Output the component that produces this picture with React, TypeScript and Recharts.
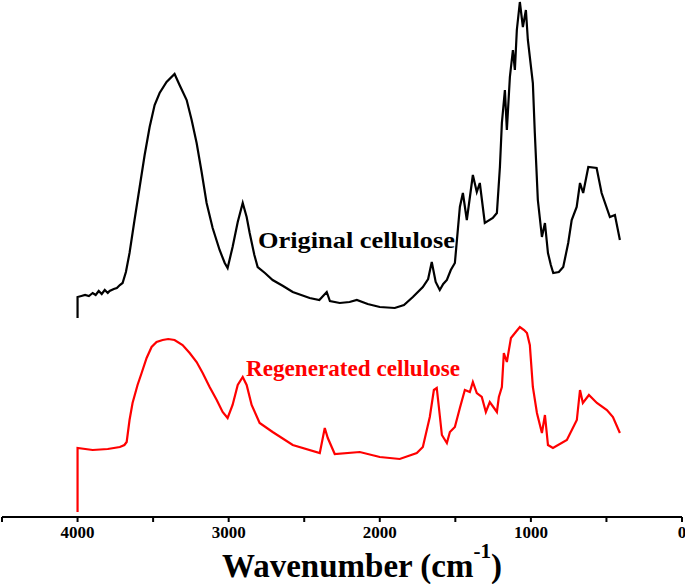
import { LineChart, Line, XAxis, YAxis } from "recharts";

// FTIR spectra, intensity in arbitrary units (offset traces)
const originalWn = [
  4000, 4000, 3975, 3950, 3925, 3900, 3880, 3860, 3840, 3820, 3800, 3788, 3760, 3740, 3720, 3702,
  3680, 3656, 3623, 3589, 3556, 3523, 3490, 3457, 3411, 3358, 3325, 3278, 3245, 3212, 3179, 3146,
  3106, 3060, 3026, 3007, 2974, 2940, 2907, 2881, 2861, 2830, 2808, 2760, 2709, 2640, 2576, 2464,
  2400, 2351, 2330, 2265, 2200, 2152, 2080, 2000, 1901, 1840, 1781, 1715, 1680, 1656, 1630, 1603,
  1580, 1556, 1530, 1503, 1470, 1450, 1424, 1384, 1358, 1338, 1305, 1252, 1225, 1205, 1192, 1172,
  1159, 1139, 1119, 1106, 1093, 1073, 1053, 1033, 1020, 987, 974, 954, 927, 907, 887, 868, 852,
  815, 786, 753, 730, 697, 675, 654, 620, 565, 532, 477, 444, 411,
];
const originalAbs = [
  199, 220, 221, 222, 221, 224, 222, 226, 223, 227, 224, 226, 228, 229, 232, 234,
  245, 264, 297, 330, 362, 390, 412, 424, 435, 443, 432, 417, 397, 374, 345, 314,
  289, 267, 254, 249, 270, 295, 314, 300, 284, 262, 250, 244, 237, 231, 225, 219,
  217, 225, 216, 214, 215, 217, 213, 210, 209, 212, 220, 230, 238, 255, 235, 227,
  233, 237, 247, 254, 310, 324, 297, 342, 325, 334, 294, 299, 304, 350, 394, 427,
  387, 440, 467, 447, 487, 515, 490, 507, 477, 434, 384, 317, 280, 294, 264, 252, 244,
  245, 250, 274, 297, 310, 334, 324, 350, 349, 324, 300, 302, 277,
];

const regeneratedWn = [
  4000, 4000, 3900, 3800, 3720, 3690, 3675, 3656, 3636, 3603, 3576, 3543, 3510, 3477, 3437, 3400,
  3358, 3305, 3258, 3212, 3172, 3126, 3079, 3040, 3007, 2974, 2940, 2907, 2881, 2848, 2795, 2709,
  2576, 2397, 2364, 2344, 2298, 2132, 2000, 1868, 1755, 1715, 1669, 1642, 1623, 1609, 1589, 1556,
  1536, 1503, 1470, 1437, 1404, 1384, 1358, 1325, 1298, 1272, 1225, 1212, 1192, 1179, 1159, 1132,
  1100, 1073, 1045, 1026, 1007, 987, 960, 927, 907, 887, 854, 762, 696, 675, 656, 616, 563, 497,
  457, 411,
];
const regeneratedAbs = [
  5, 69, 67, 68, 70, 72, 75, 97, 114, 132, 144, 159, 170, 175, 177, 178,
  177, 172, 164, 155, 144, 130, 117, 105, 99, 112, 132, 140, 132, 112, 94, 85,
  72, 64, 89, 79, 63, 65, 60, 58, 64, 70, 100, 127, 129, 110, 82, 74,
  85, 90, 109, 127, 125, 135, 124, 120, 105, 115, 105, 120, 130, 164, 155, 179,
  185, 190, 187, 184, 172, 130, 104, 84, 102, 72, 69, 77, 97, 127, 114, 122, 114, 107,
  100, 84,
];

const xTicks = [4500, 4000, 3500, 3000, 2500, 2000, 1500, 1000, 500, 0];

const originalData = originalWn.map((wn, i) => ({ wn, v: originalAbs[i] }));
const regeneratedData = regeneratedWn.map((wn, i) => ({ wn, v: regeneratedAbs[i] }));

const serif = '"Liberation Serif", "Times New Roman", serif';

const AxisTitle = () => (
  <text x={362} y={577} textAnchor="middle" fontFamily={serif} fontWeight="bold" fontSize={33} fill="#000">
    Wavenumber (cm
    <tspan fontSize={21} dy={-19}>-1</tspan>
    <tspan dy={19}>)</tspan>
  </text>
);

export default function App() {
  return (
    <div style={{ position: "absolute", left: 0, top: 0, width: 685, height: 584, background: "#fff" }}>
      <LineChart width={685} height={584} data={originalData} margin={{ top: 0, right: 3, left: 2, bottom: 7 }}>
        <XAxis
          type="number"
          dataKey="wn"
          domain={[0, 4500]}
          reversed
          ticks={xTicks}
          interval={0}
          tickFormatter={(v: number) => (v % 1000 === 0 ? String(v) : "")}
          tickSize={5}
          tickMargin={4}
          height={60}
          axisLine={{ stroke: "#000", strokeWidth: 2 }}
          tickLine={{ stroke: "#000", strokeWidth: 2 }}
          tick={{ fill: "#000", fontSize: 17, fontWeight: "bold", fontFamily: serif }}
          label={{ content: AxisTitle }}
        />
        <YAxis hide domain={[0, 517]} />
        <Line
          data={originalData}
          dataKey="v"
          type="linear"
          stroke="#000"
          strokeWidth={2.2}
          dot={false}
          isAnimationActive={false}
        />
        <Line
          data={regeneratedData}
          dataKey="v"
          type="linear"
          stroke="#ff0000"
          strokeWidth={2.2}
          dot={false}
          isAnimationActive={false}
        />
      </LineChart>
      <svg width={685} height={584} style={{ position: "absolute", left: 0, top: 0, pointerEvents: "none" }}>
        <text x={258} y={248} fontFamily={serif} fontWeight="bold" fontSize={23} fill="#000" textLength={197} lengthAdjust="spacingAndGlyphs">
          Original cellulose
        </text>
        <text x={246} y={376} fontFamily={serif} fontWeight="bold" fontSize={23} fill="#ff0000" textLength={214} lengthAdjust="spacingAndGlyphs">
          Regenerated cellulose
        </text>
      </svg>
    </div>
  );
}
